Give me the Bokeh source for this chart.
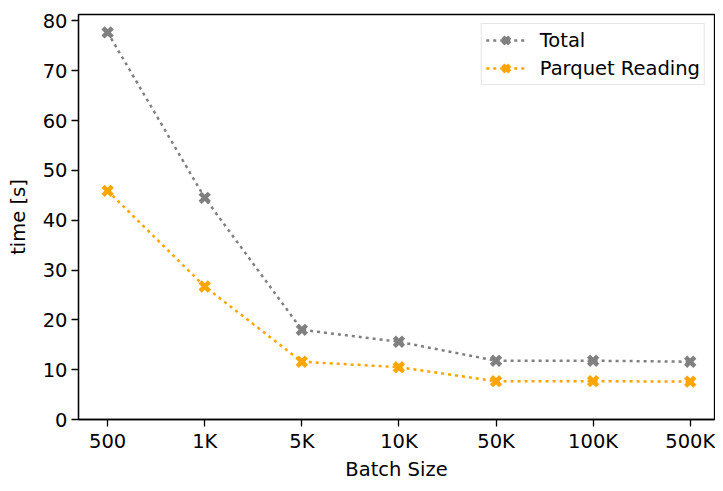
from bokeh.plotting import figure
from bokeh.models import Range1d, FixedTicker
from bokeh.embed import file_html
from bokeh.resources import INLINE

batch_sizes = ["500", "1K", "5K", "10K", "50K", "100K", "500K"]
total = [77.7, 44.5, 18.0, 15.6, 11.8, 11.8, 11.6]
parquet = [45.9, 26.7, 11.6, 10.5, 7.7, 7.7, 7.6]
y_ticks = [0, 10, 20, 30, 40, 50, 60, 70, 80]

xs = list(range(len(batch_sizes)))
FONT = "DejaVu Sans"
FS = "19.5px"

p = figure(width=715, height=483, output_backend="svg", toolbar_location=None,
           x_range=Range1d(-0.3, len(batch_sizes) - 0.75), y_range=Range1d(0, 81.3),
           min_border_left=78, min_border_top=14, min_border_right=1, min_border_bottom=40)
p.xgrid.visible = False
p.ygrid.visible = False
p.outline_line_color = "black"
p.outline_line_width = 1.3
p.background_fill_color = "white"
p.border_fill_color = "white"

p.line(xs, total, line_color="#808080", line_width=2.5, line_dash="3 4", legend_label="Total")
p.scatter(xs, total, marker="x", size=13, line_color="#808080", line_width=4.5, legend_label="Total")
p.line(xs, parquet, line_color="#FFA500", line_width=2.5, line_dash="3 4", legend_label="Parquet Reading")
p.scatter(xs, parquet, marker="x", size=13, line_color="#FFA500", line_width=4.5, legend_label="Parquet Reading")

for ax in (p.xaxis[0], p.yaxis[0]):
    ax.major_label_text_font = FONT
    ax.major_label_text_font_size = FS
    ax.major_label_text_color = "black"
    ax.axis_label_text_font = FONT
    ax.axis_label_text_font_size = FS
    ax.axis_label_text_font_style = "normal"
    ax.axis_label_text_color = "black"
    ax.axis_line_color = "black"
    ax.axis_line_width = 1.3
    ax.major_tick_line_color = "black"
    ax.major_tick_line_width = 1.3
    ax.major_tick_out = 7
    ax.major_tick_in = 0
    ax.minor_tick_line_color = None

p.xaxis.ticker = FixedTicker(ticks=xs)
p.xaxis.major_label_overrides = {i: s for i, s in enumerate(batch_sizes)}
p.xaxis.axis_label = "Batch Size"
p.xaxis.major_label_standoff = 3
p.xaxis.axis_label_standoff = 2

p.yaxis.ticker = FixedTicker(ticks=y_ticks)
p.yaxis.axis_label = "time [s]"
p.yaxis.major_label_standoff = 4
p.yaxis.axis_label_standoff = 10

lg = p.legend[0]
lg.location = "top_right"
lg.margin = 9
lg.padding = 4
lg.spacing = 4
lg.glyph_width = 40
lg.glyph_height = 24
lg.label_standoff = 14
lg.label_text_font = FONT
lg.label_text_font_size = FS
lg.label_text_color = "black"
lg.border_line_color = "#cccccc"
lg.border_line_width = 1.3
lg.background_fill_alpha = 0.8

open("out.html", "w").write(file_html(p, INLINE))
